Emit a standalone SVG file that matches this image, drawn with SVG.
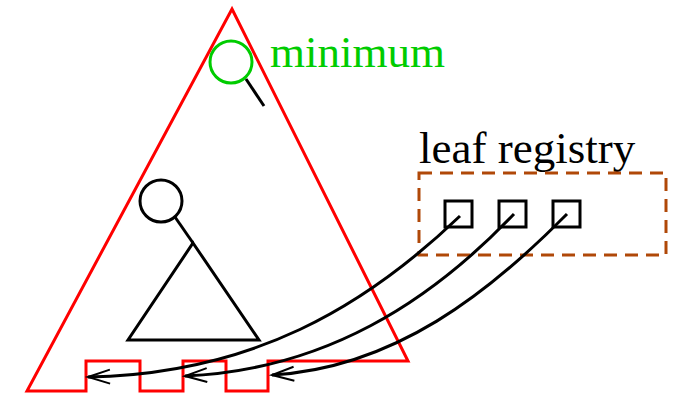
<svg xmlns="http://www.w3.org/2000/svg" width="673" height="397" viewBox="0 0 673 397">
<style>
.red{fill:none;stroke:#ff0000;stroke-width:3;stroke-linejoin:miter}
.blk{fill:none;stroke:#000;stroke-width:3}
.arc{fill:none;stroke:#000;stroke-width:3;marker-end:url(#ah)}
.grn{fill:none;stroke:#00cc00;stroke-width:3}
.reg{fill:none;stroke:#b04808;stroke-width:3;stroke-dasharray:13 8}
.lbl{font-family:"Liberation Serif","Times New Roman",serif;font-size:45px}
</style>
<defs>
<marker id="ah" markerUnits="userSpaceOnUse" markerWidth="30" markerHeight="20" refX="22" refY="8" orient="auto" viewBox="-2 0 30 16">
<path d="M0,1 L22,8 L0,15" fill="none" stroke="#000" stroke-width="2"/>
</marker>
</defs>
<g id="tree">
<path class="red" d="M232,9 L408,361 L268,361 L268,391 L226,391 L226,361 L183,361 L183,391 L140,391 L140,361 L86,361 L86,391 L27,391 Z"/>
</g>
<g id="minimum">
<circle class="grn" cx="231" cy="62" r="21"/>
<line class="blk" x1="246" y1="79" x2="264" y2="106"/>
<text class="lbl" x="270" y="67" fill="#00cc00">minimum</text>
</g>
<g id="subtree">
<circle class="blk" cx="161" cy="201" r="21"/>
<line class="blk" x1="175" y1="217" x2="193" y2="243"/>
<path class="blk" d="M193,243 L259,340 L128,340 Z"/>
</g>
<g id="registry">
<text class="lbl" x="419" y="163" fill="#000">leaf registry</text>
<rect class="reg" x="419" y="173" width="247" height="82"/>
<rect class="blk" x="445" y="201" width="27" height="26"/>
<rect class="blk" x="499" y="201" width="27" height="26"/>
<rect class="blk" x="553" y="201" width="27" height="26"/>
</g>
<g id="connectors">
<path class="arc" d="M460,216 C365,307 252,374 88,377"/>
<path class="arc" d="M514,214 C430,302 325,370 185,376"/>
<path class="arc" d="M567,214 C490,292 395,368 272,375"/>
</g>
</svg>
